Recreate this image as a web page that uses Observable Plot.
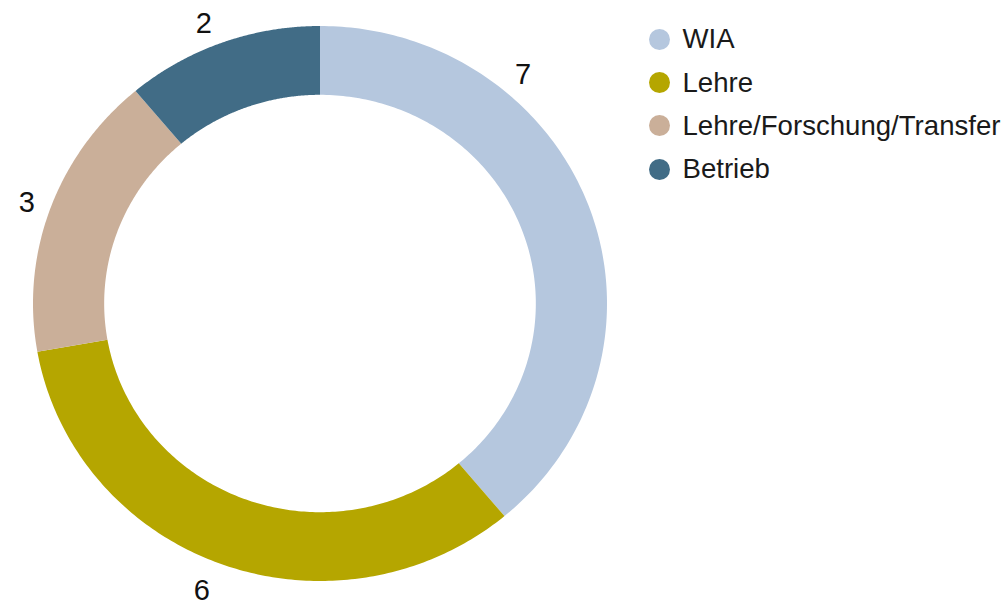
<!DOCTYPE html>
<html><head><meta charset="utf-8">
<script src="https://cdn.jsdelivr.net/npm/d3@7"></script>
<script src="https://cdn.jsdelivr.net/npm/@observablehq/plot@0.6"></script>
<style>
body{margin:0;background:#fff;font-family:"Liberation Sans",Arial,Helvetica,sans-serif;}
#wrap{position:relative;width:1007px;height:610px;overflow:hidden;}
#legend{position:absolute;left:648.5px;top:17.6px;}
.row{display:flex;align-items:center;height:43.3px;}
.sw{width:21px;height:21px;border-radius:50%;margin-right:13px;flex:none;}
.lab{font-size:27.6px;color:#1a1a1a;white-space:nowrap;line-height:1;}
</style></head><body><div id="wrap"><div id="chart"></div><div id="legend"></div></div>
<script>
const categories = ["WIA", "Lehre", "Lehre/Forschung/Transfer", "Betrieb"];
const values = [7, 6, 3, 2];
const colors = ["#b5c7de", "#b5a600", "#caaf99", "#416c86"];

const total = d3.sum(values);
let acc = 0;
const slices = categories.map((c, i) => {
  const start = acc / total * 2 * Math.PI;
  acc += values[i];
  const end = acc / total * 2 * Math.PI;
  return {category: c, value: values[i], start, end};
});

const innerRatio = 0.752;
const labelRadius = 1.085;
// where along each slice the outside label sits (fraction of the slice span)
const labelFraction = [0.29, 0.52, 0.49, 0.45];

const labels = slices.map((d, i) => {
  const a = d.start + (d.end - d.start) * labelFraction[i];
  const c = Math.cos(a);
  return {
    text: String(d.value),
    lx: labelRadius * Math.sin(a),
    ly: labelRadius * c - 0.035 * Math.max(0, -c)
  };
});

const colorScale = d3.scaleOrdinal(categories, colors);

function ring(index, scales) {
  const {x, y} = scales;
  const g = d3.create("svg:g");
  for (const d of slices) {
    const n = 160;
    const pts = [];
    for (let k = 0; k <= n; k++) {
      const a = d.start + (d.end - d.start) * k / n;
      pts.push([x(Math.sin(a)), y(Math.cos(a))]);
    }
    for (let k = n; k >= 0; k--) {
      const a = d.start + (d.end - d.start) * k / n;
      pts.push([x(innerRatio * Math.sin(a)), y(innerRatio * Math.cos(a))]);
    }
    g.append("path")
      .attr("d", "M" + pts.map(p => p[0].toFixed(2) + "," + p[1].toFixed(2)).join("L") + "Z")
      .attr("fill", colorScale(d.category));
  }
  return g.node();
}

const chart = Plot.plot({
  width: 1007,
  height: 610,
  margin: 0,
  x: {domain: [-1, 1], range: [33, 607], axis: null},
  y: {domain: [-1, 1], range: [581, 26], axis: null},
  style: {fontFamily: "'Liberation Sans', Arial, sans-serif", background: "#fff"},
  marks: [
    ring,
    Plot.text(labels, {x: "lx", y: "ly", text: "text", fontSize: 29, dy: -1, fill: "#111"})
  ]
});
document.getElementById("chart").appendChild(chart);

const legend = d3.select("#legend");
categories.forEach((c, i) => {
  const row = legend.append("div").attr("class", "row");
  row.append("div").attr("class", "sw").style("background", colors[i]);
  row.append("div").attr("class", "lab").text(c);
});
</script>
</body></html>
